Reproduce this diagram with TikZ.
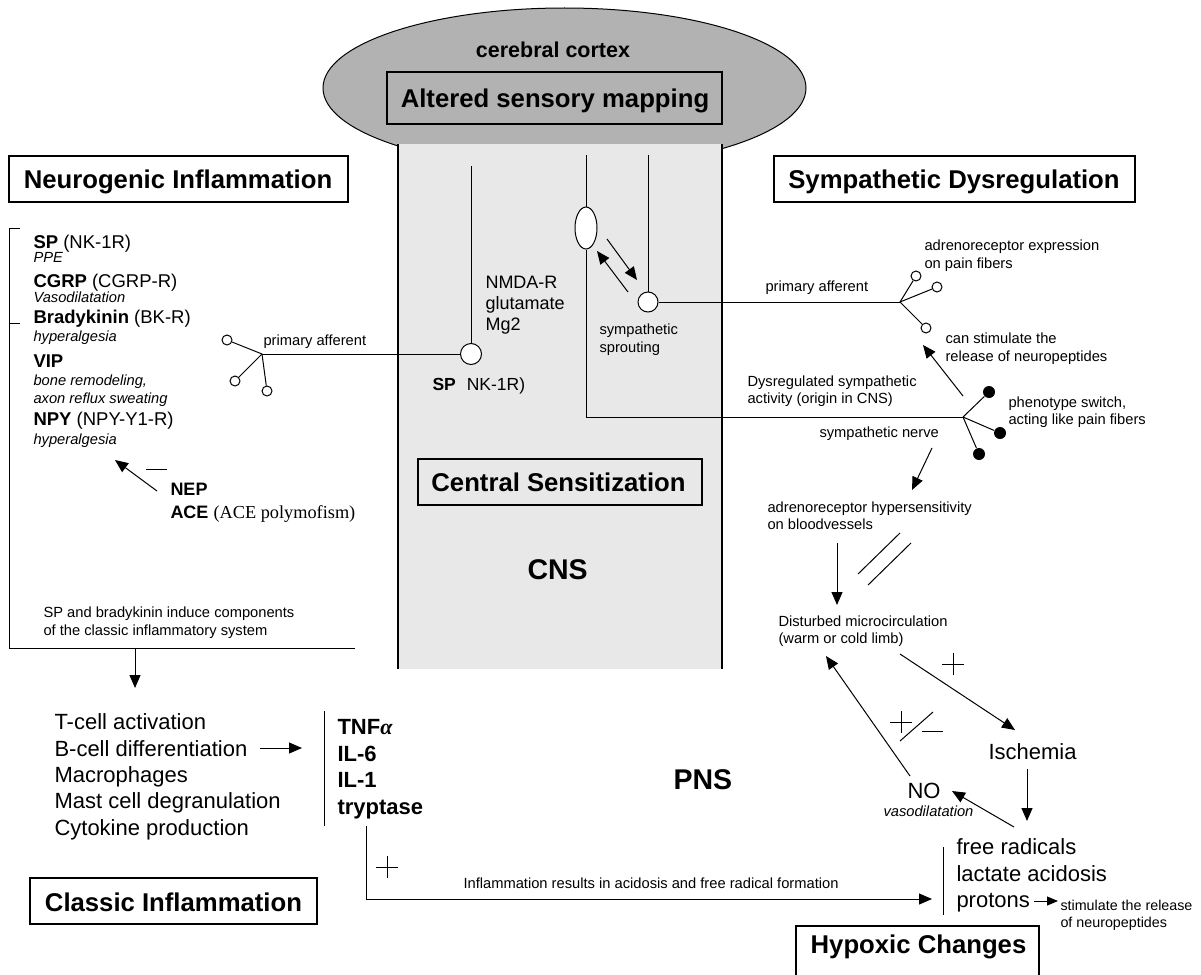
\documentclass[tikz,border=0pt]{standalone}
\usepackage{fontspec}
\setmainfont{Liberation Sans}
\newfontfamily\timesfont{Liberation Serif}
\usetikzlibrary{arrows.meta,shapes.geometric}
\definecolor{cortexgray}{gray}{0.70}
\definecolor{cnsgray}{gray}{0.91}
\begin{document}
\begin{tikzpicture}[x=1pt,y=-1pt,line width=1pt,
  tip/.style={-{Triangle[length=13pt,width=11pt]}},
  hbox/.style={draw,line width=1.2pt,inner sep=0pt,outer sep=0pt},
  hd/.style={font=\fontsize{25.7}{30}\selectfont\bfseries,inner sep=0pt,anchor=base},
  sm/.style={font=\fontsize{14.7}{17}\selectfont,inner sep=0pt,anchor=base west},
  smi/.style={font=\fontsize{14.7}{17}\selectfont\itshape,inner sep=0pt,anchor=base west},
  md/.style={font=\fontsize{18.5}{22}\selectfont,inner sep=0pt,anchor=base west},
  lg/.style={font=\fontsize{22}{26}\selectfont,inner sep=0pt,anchor=base west},
  lgb/.style={font=\fontsize{22}{26}\selectfont\bfseries,inner sep=0pt,anchor=base west},
  big/.style={font=\fontsize{28.5}{32}\selectfont\bfseries,inner sep=0pt,anchor=base west},
  opencirc/.style={circle,draw,fill=white,inner sep=0pt,minimum size=10pt},
  dotcirc/.style={circle,fill=black,inner sep=0pt,minimum size=12pt},
  soma/.style={circle,draw,fill=white,inner sep=0pt,minimum size=21pt}]

\useasboundingbox (0,0) rectangle (1201,974);

% ---------- cortex and CNS ----------
\node[ellipse,draw,fill=cortexgray,minimum width=483pt,minimum height=160pt,inner sep=0pt] (cortex) at (564.5,88) {};
\node[fill=cnsgray,minimum width=324pt,minimum height=525pt,anchor=north west,inner sep=0pt,outer sep=0pt] (cns) at (398,144) {};
\draw[line width=2.5pt] (cns.north west) -- (cns.south west);
\draw[line width=2.5pt] (cns.north east) -- (cns.south east);

\node[font=\fontsize{21.5}{25}\selectfont\bfseries,inner sep=0pt,anchor=base] (cc) at (553,58) {cerebral cortex};
\node[hbox,fill=cortexgray,minimum width=335pt,minimum height=52pt] (asmbox) at (554.5,98) {};
\node[hd] (asm) at (555,107) {Altered sensory mapping};

% ---------- heading boxes ----------
\node[hbox,minimum width=339pt,minimum height=46pt] (nibox) at (178.5,179) {};
\node[hd] (ni) at (178,188) {Neurogenic Inflammation};
\node[hbox,minimum width=361pt,minimum height=46pt] (sdbox) at (954.5,179) {};
\node[hd] (sd) at (954,188) {Sympathetic Dysregulation};
\node[hbox,minimum width=284pt,minimum height=46pt] (csbox) at (560,482) {};
\node[hd] (cs) at (558.5,491) {Central Sensitization};
\node[hbox,minimum width=287pt,minimum height=46pt] (cibox) at (173.5,901) {};
\node[hd] (ci) at (173.5,911) {Classic Inflammation};
\node[hbox,minimum width=243pt,minimum height=64pt,anchor=north west] (hcbox) at (796,926) {};
\node[hd] (hc) at (918.5,953) {Hypoxic Changes};

\node[big] (cnslabel) at (527,579) {CNS};
\node[big] (pnslabel) at (673,789) {PNS};

% ---------- neurogenic list ----------
\draw (20,228) coordinate (brt) -- (9,228) coordinate (brtl) -- (9,648) coordinate (brbl) -- (355,648) coordinate (brbr);
\draw (9,323) coordinate (brm) -- (20,323) coordinate (brmr);
\node[md] (l1) at (33,248) {\textbf{SP} (NK-1R)};
\node[smi] (l2) at (33,262) {PPE};
\node[md] (l3) at (33,287) {\textbf{CGRP} (CGRP-R)};
\node[smi] (l4) at (33,302) {Vasodilatation};
\node[md] (l5) at (33,323) {\textbf{Bradykinin} (BK-R)};
\node[smi] (l6) at (33,341) {hyperalgesia};
\node[md] (l7) at (33,367) {\textbf{VIP}};
\node[smi] (l8) at (33,385) {bone remodeling,};
\node[smi] (l9) at (33,403) {axon reflux sweating};
\node[md] (l10) at (33,425) {\textbf{NPY} (NPY-Y1-R)};
\node[smi] (l11) at (33,444) {hyperalgesia};

\node[md,font=\fontsize{18}{22}\selectfont] (nep) at (170,495) {\textbf{NEP}};
\node[md,font=\fontsize{18}{22}\selectfont] (ace) at (170,518) {\textbf{ACE} {\timesfont\fontsize{18.3}{22}\selectfont (ACE polymofism)}};
\coordinate (nepS) at (157,491);
\coordinate (nepT) at (115,460);
\draw[tip] (nepS) -- (nepT);
\draw (146,469) coordinate (minA) -- (167,469) coordinate (minB);

\node[sm] (spb1) at (43,617) {SP and bradykinin induce components};
\node[sm] (spb2) at (43,635) {of the classic inflammatory system};
\coordinate (dnS) at (135,648);
\coordinate (dnT) at (135,688);
\draw[tip] (dnS) -- (dnT);

% ---------- left primary afferent ----------
\node[soma] (spsoma) at (471,354) {};
\coordinate (ltop) at (471,166);
\draw (ltop) -- (spsoma);
\coordinate (lb) at (262,354);
\draw (lb) -- (spsoma);
\node[opencirc] (lc1) at (227,340) {};
\node[opencirc] (lc2) at (235,381) {};
\node[opencirc] (lc3) at (267,391) {};
\draw (lb) -- (lc1);
\draw (lb) -- (lc2);
\draw (lb) -- (lc3);
\node[sm] (pal) at (263,345) {primary afferent};

\node[md,font=\fontsize{18}{22}\selectfont] (nm1) at (485,288) {NMDA-R};
\node[md,font=\fontsize{18}{22}\selectfont] (nm2) at (485,309) {glutamate};
\node[md,font=\fontsize{18}{22}\selectfont] (nm3) at (485,330) {Mg2};
\node[md,font=\fontsize{17.5}{21}\selectfont] (spnk) at (432,390) {\textbf{SP}\hspace{11pt}NK-1R)};

% ---------- middle neuron (sympathetic) ----------
\node[ellipse,draw,fill=white,inner sep=0pt,minimum width=22pt,minimum height=42pt] (oval) at (586,228) {};
\coordinate (mtop) at (586,155);
\coordinate (mb) at (586,417);
\coordinate (rb2) at (963,417);
\draw (mtop) -- (oval);
\draw (oval) -- (mb) -- (rb2);

% ---------- right neuron (primary afferent) ----------
\node[soma,minimum size=20pt] (sssoma) at (648,302) {};
\coordinate (rtop) at (648,155);
\coordinate (rb1) at (900,302);
\draw (rtop) -- (sssoma);
\draw (sssoma) -- (rb1);
\node[opencirc] (rc1) at (916,276) {};
\node[opencirc] (rc2) at (937,287) {};
\node[opencirc] (rc3) at (926,328) {};
\draw (rb1) -- (rc1);
\draw (rb1) -- (rc2);
\draw (rb1) -- (rc3);
\node[dotcirc] (fc1) at (989,392) {};
\node[dotcirc] (fc2) at (1000,433) {};
\node[dotcirc] (fc3) at (979,454) {};
\draw (rb2) -- (fc1);
\draw (rb2) -- (fc2);
\draw (rb2) -- (fc3);

\coordinate (spa1S) at (607,239);
\coordinate (spa1T) at (637,280);
\coordinate (spa2S) at (628,292);
\coordinate (spa2T) at (597,251);
\draw[tip] (spa1S) -- (spa1T);
\draw[tip] (spa2S) -- (spa2T);

\node[sm] (sp1) at (599,334) {sympathetic};
\node[sm] (sp2) at (599,352) {sprouting};
\node[sm] (par) at (765,291) {primary afferent};
\node[sm] (ae1) at (924,250) {adrenoreceptor expression};
\node[sm] (ae2) at (924,268) {on pain fibers};
\node[sm] (cs1) at (945,343) {can stimulate the};
\node[sm] (cs2) at (945,361) {release of neuropeptides};
\node[sm] (ds1) at (747,386) {Dysregulated sympathetic};
\node[sm] (ds2) at (747,403) {activity (origin in CNS)};
\node[sm] (ph1) at (1008,407) {phenotype switch,};
\node[sm] (ph2) at (1008,424) {acting like pain fibers};
\node[sm] (sn) at (819,437) {sympathetic nerve};

\coordinate (csS) at (963,396);
\coordinate (csT) at (923,345);
\draw[tip] (csS) -- (csT);
\coordinate (snS) at (932,448);
\coordinate (snT) at (912,490);
\draw[tip] (snS) -- (snT);

\node[sm] (ah1) at (767,512) {adrenoreceptor hypersensitivity};
\node[sm] (ah2) at (767,529) {on bloodvessels};
\coordinate (ahS) at (837,543);
\coordinate (ahT) at (837,605);
\draw[tip] (ahS) -- (ahT);
\draw (858,574) coordinate (sl1a) -- (900,533) coordinate (sl1b);
\draw (868,585) coordinate (sl2a) -- (911,543) coordinate (sl2b);

\node[sm] (dm1) at (778,626) {Disturbed microcirculation};
\node[sm] (dm2) at (778,643) {(warm or cold limb)};

% ---------- hypoxic loop ----------
\node[lg] (isch) at (988,759) {Ischemia};
\node[lg] (no) at (907,798) {NO};
\node[smi] (vaso) at (883,816) {vasodilatation};
\coordinate (dmS) at (900,654);
\coordinate (ischT) at (1015,730);
\draw[tip] (dmS) -- (ischT);
\draw (942,664) coordinate (p1a) -- (964,664) coordinate (p1b);
\draw (953,653) coordinate (p1c) -- (953,675) coordinate (p1d);
\coordinate (noS) at (910,776);
\coordinate (dmT) at (826,656);
\draw[tip] (noS) -- (dmT);
\draw (890,722) coordinate (p2a) -- (912,722) coordinate (p2b);
\draw (901,711) coordinate (p2c) -- (901,733) coordinate (p2d);
\draw (900,741) coordinate (slA) -- (933,712) coordinate (slB);
\draw (922,731) coordinate (m2a) -- (943,731) coordinate (m2b);
\coordinate (ischS) at (1027,769);
\coordinate (frT) at (1027,821);
\draw[tip] (ischS) -- (frT);
\coordinate (frS) at (1014,827);
\coordinate (noT) at (952,791);
\draw[tip] (frS) -- (noT);

\draw (943,847) coordinate (fbarT) -- (943,915) coordinate (fbarB);
\node[lg] (fr1) at (956,854) {free radicals};
\node[lg] (fr2) at (956,881) {lactate acidosis};
\node[lg] (fr3) at (956,907) {protons};
\coordinate (prS) at (1034,901);
\coordinate (prT) at (1058,901);
\draw[-{Triangle[length=11pt,width=9pt]}] (prS) -- (prT);
\node[sm,font=\fontsize{14.3}{17}\selectfont] (st1) at (1060,910) {stimulate the release};
\node[sm,font=\fontsize{14.3}{17}\selectfont] (st2) at (1060,927) {of neuropeptides};

% ---------- classic inflammation ----------
\node[lg] (c1) at (54,729) {T-cell activation};
\node[lg] (c2) at (54,756) {B-cell differentiation};
\node[lg] (c3) at (54,782) {Macrophages};
\node[lg] (c4) at (54,808) {Mast cell degranulation};
\node[lg] (c5) at (54,835) {Cytokine production};
\coordinate (bcS) at (260,748);
\coordinate (bcT) at (302,748);
\draw[tip] (bcS) -- (bcT);
\draw (324,711) coordinate (cbarT) -- (324,826) coordinate (cbarB);
\node[lgb] (t1) at (337,734) {TNF{\timesfont\bfseries\itshape α}};
\node[lgb] (t2) at (337,761) {IL-6};
\node[lgb] (t3) at (337,787) {IL-1};
\node[lgb] (t4) at (337,814) {tryptase};

\coordinate (trS) at (366,826);
\coordinate (trC) at (366,899);
\coordinate (trT) at (932,899);
\draw[tip] (trS) -- (trC) -- (trT);
\draw (376,867) coordinate (p3a) -- (398,867) coordinate (p3b);
\draw (387,856) coordinate (p3c) -- (387,878) coordinate (p3d);
\node[sm] (infl) at (463,888) {Inflammation results in acidosis and free radical formation};

\end{tikzpicture}
\end{document}
